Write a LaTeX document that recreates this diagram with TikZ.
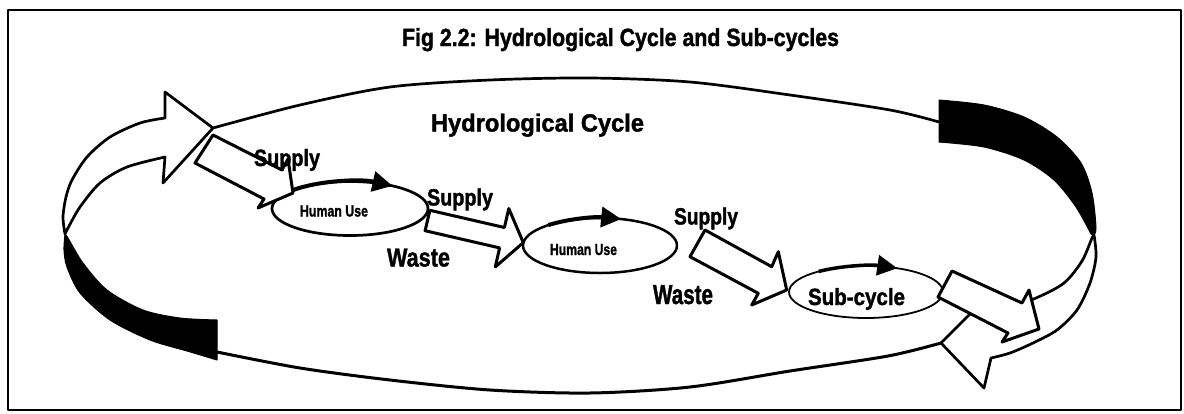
\documentclass[tikz,border=0pt]{standalone}
\usepackage{fontspec}
\setmainfont{Liberation Sans}[BoldFeatures={FakeBold=1.6}]
\usepackage{graphicx}
\usetikzlibrary{arrows.meta}
\newcommand{\fitlbl}[3]{\resizebox{#1pt}{#2pt}{\bfseries #3}}
\begin{document}
\begin{tikzpicture}[x=1pt,y=-1pt,line join=round,
  ring/.style={line width=2.7pt},
  blockarr/.style={draw,fill=white,line width=3pt,line join=round},
  lbl/.style={anchor=base west,inner sep=0pt,outer sep=0pt},
  flow/.style={line width=4pt,-{Triangle[length=20pt,width=20pt]}}]
\useasboundingbox (0,0) rectangle (1184,413);
\fill[white] (0,0) rectangle (1184,413);
% frame
\draw[line width=2.5pt] (8,10) rectangle (1181,410);
% ring lines
\draw[ring] plot[smooth] coordinates {(213,128) (300,105) (390,87) (490,80) (590,78) (690,82) (790,95) (890,110) (939,122)};
\draw[line width=3pt] plot[smooth] coordinates {(941,343) (888,356) (790,371) (690,387) (590,393) (490,390) (390,380) (300,368) (217,352)};
% black bands
\filldraw[line width=1pt] plot[smooth] coordinates {(65,234) (64,250) (67,267) (80,293) (110,320) (150,340) (187,351) (217,360)} -- (217,320) -- plot[smooth] coordinates {(217,320) (180,318) (143,310) (107,290) (83,263) (68,238) (65,234)} -- cycle;
\filldraw[line width=1pt] plot[smooth] coordinates {(939,100) (984,105) (1024,117) (1057,137) (1081,163) (1092,193) (1096,227) (1094,235)} -- plot[smooth] coordinates {(1091,234) (1076,207) (1054,180) (1024,160) (984,147) (939,142)} -- cycle;
% left hollow arrow of the ring
\filldraw[ring,fill=white] plot[smooth] coordinates {(65,234) (63,217) (66,197) (72,180) (87,157) (110,137) (140,123) (165,118)} -- (165,92) -- (213,128) -- (163,183) -- plot[smooth] coordinates {(165,157) (127,167) (100,183) (80,207) (68,228) (65,234)} -- cycle;
% right lower hollow band with arrow head
\filldraw[ring,fill=white] plot[smooth] coordinates {(1094,235) (1096,257) (1090,283) (1077,310) (1057,330) (1033,343) (1010,353) (991,358)} -- (984,388) -- (941,343) -- (986,298) -- plot[smooth] coordinates {(998,312) (1036,298) (1064,283) (1082,261) (1092,238) (1094,235)} -- cycle;
% sub-cycle ellipses
\draw[line width=2.7pt] (350,208.5) ellipse [x radius=78pt,y radius=27pt];
\draw[flow,shift={(350,208.5)}] (138:78pt and 27pt) arc[start angle=138,end angle=57,x radius=78pt,y radius=27pt];
\draw[line width=2.5pt] (600,245.5) ellipse [x radius=77pt,y radius=27.5pt];
\draw[flow,shift={(600,245.5)}] (132:77pt and 27.5pt) arc[start angle=132,end angle=74,x radius=77pt,y radius=27.5pt];
\draw[line width=1.8pt] (866,292) ellipse [x radius=77pt,y radius=26pt];
\draw[flow,line width=3.5pt,shift={(866,292)}] (128:77pt and 26pt) arc[start angle=128,end angle=66,x radius=77pt,y radius=26pt];
% block arrows
\filldraw[blockarr] (213,135) -- (282,170) -- (288,159) -- (293,193) -- (258,208) -- (264,199) -- (195,163) -- cycle;
\filldraw[blockarr] (429.9,210.3) -- (504.4,227.5) -- (508.8,208.5) -- (523.3,242.6) -- (495.3,266.9) -- (499.6,247.9) -- (425.1,230.7) -- cycle;
\filldraw[blockarr] (705,230) -- (771.7,266.7) -- (778.3,251.7) -- (786.7,290) -- (751.7,305) -- (758.3,293.3) -- (690,256.7) -- cycle;
\filldraw[blockarr] (952,271) -- (1022,303) -- (1029,290) -- (1039,329) -- (1002,342) -- (1008,333) -- (938,297) -- cycle;
% labels
\node[lbl] (title) at (402,46) {\fitlbl{437}{18}{Fig 2.2: Hydrological Cycle and Sub-cycles}};
\node[lbl] (hc) at (431,131.5) {\fitlbl{213}{18}{Hydrological Cycle}};
\node[lbl] (sup1) at (254,166) {\fitlbl{66}{17}{Supply}};
\node[lbl] (sup2) at (427,205.5) {\fitlbl{66}{17}{Supply}};
\node[lbl] (sup3) at (674,224.5) {\fitlbl{64}{17}{Supply}};
\node[lbl] (waste1) at (387,266.5) {\fitlbl{63}{18}{Waste}};
\node[lbl] (waste2) at (653,304) {\fitlbl{60}{19}{Waste}};
\node[lbl] (subc) at (808,305) {\fitlbl{97}{17}{Sub-cycle}};
\node[lbl] (hu1) at (300,216.5) {\fitlbl{68}{11}{Human Use}};
\node[lbl] (hu2) at (550,255) {\fitlbl{67}{11}{Human Use}};
\end{tikzpicture}
\end{document}
